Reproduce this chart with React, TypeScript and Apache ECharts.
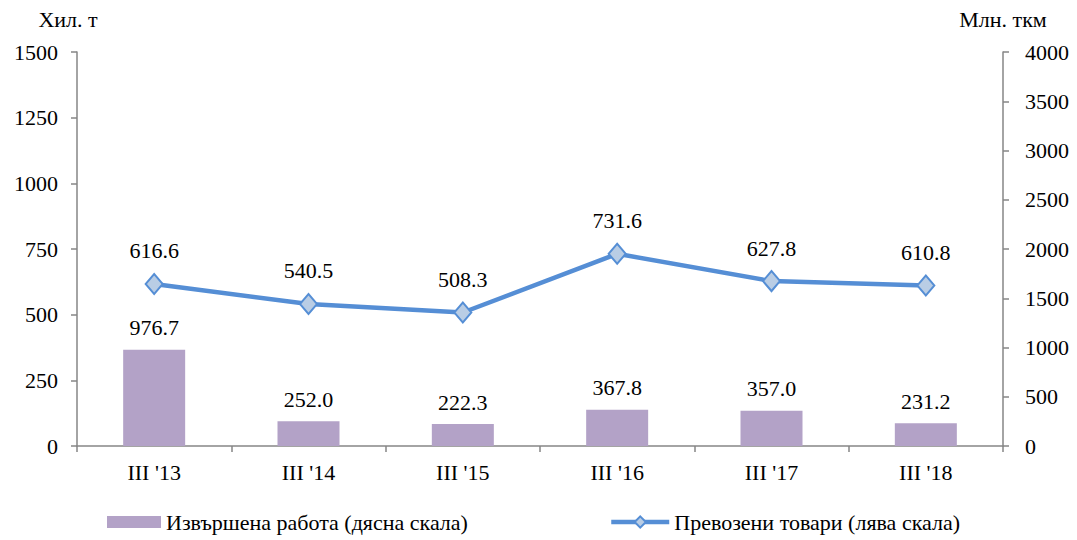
import React, { useEffect, useRef } from "react";
import * as echarts from "echarts";

const categories = ["III '13", "III '14", "III '15", "III '16", "III '17", "III '18"];
const workDone = [976.7, 252.0, 222.3, 367.8, 357.0, 231.2];
const goodsCarried = [616.6, 540.5, 508.3, 731.6, 627.8, 610.8];
const barName = "Извършена работа (дясна скала)";
const lineName = "Превозени товари (лява скала)";

const FONT = "'Liberation Serif', 'Times New Roman', serif";
const FS = 22;

export default function App() {
  const ref = useRef<HTMLDivElement>(null);
  useEffect(() => {
    const chart = echarts.init(ref.current!, null, { renderer: "svg" });
    const axisCommon = {
      axisLine: { show: true, lineStyle: { color: "#868686", width: 1.5 } },
      axisTick: { show: true, inside: false, length: 6, lineStyle: { color: "#868686", width: 1.5 } },
      splitLine: { show: false },
      axisLabel: { color: "#000", fontFamily: FONT, fontSize: FS, margin: 19, formatter: (v: any) => String(v) },
    };
    const legendText = { fontFamily: FONT, fontSize: FS, color: "#000" };
    chart.setOption({
      animation: false,
      textStyle: { fontFamily: FONT },
      grid: { left: 77, right: 74, top: 52, bottom: 94, containLabel: false },
      legend: [
        {
          bottom: 2,
          left: 102,
          itemWidth: 54,
          itemHeight: 12,
          itemGap: 8,
          textStyle: legendText,
          data: [{ name: barName, icon: "rect" }],
        },
        {
          bottom: 2,
          left: 604,
          itemWidth: 58,
          itemHeight: 14,
          itemGap: 6,
          textStyle: legendText,
          lineStyle: { width: 4.5 },
          data: [{ name: lineName }],
        },
      ],
      xAxis: {
        type: "category",
        data: categories,
        ...axisCommon,
        axisLabel: { ...axisCommon.axisLabel, margin: 15, formatter: undefined },
      },
      yAxis: [
        {
          type: "value",
          min: 0,
          max: 1500,
          interval: 250,
          position: "left",
          name: "Хил. т",
          nameLocation: "end",
          nameGap: 22,
          nameTextStyle: { color: "#000", fontFamily: FONT, fontSize: FS, align: "center", padding: [0, 18, 0, 0] },
          ...axisCommon,
        },
        {
          type: "value",
          min: 0,
          max: 4000,
          interval: 500,
          position: "right",
          name: "Млн. ткм",
          nameLocation: "end",
          nameGap: 22,
          nameTextStyle: { color: "#000", fontFamily: FONT, fontSize: FS, align: "center" },
          ...axisCommon,
          axisLabel: { ...axisCommon.axisLabel, margin: 22 },
        },
      ],
      series: [
        {
          name: barName,
          type: "bar",
          yAxisIndex: 1,
          data: workDone,
          barWidth: 62,
          itemStyle: { color: "#B3A2C7" },
          label: {
            show: true,
            position: "top",
            distance: 11,
            color: "#000",
            fontFamily: FONT,
            fontSize: FS,
            formatter: (p: any) => Number(p.value).toFixed(1),
          },
        },
        {
          name: lineName,
          type: "line",
          yAxisIndex: 0,
          data: goodsCarried,
          symbol: "diamond",
          symbolSize: [17, 20],
          lineStyle: { color: "#558ED5", width: 4.5 },
          itemStyle: { color: "#B9CDE5", borderColor: "#558ED5", borderWidth: 2 },
          label: {
            show: true,
            position: "top",
            distance: 11,
            color: "#000",
            fontFamily: FONT,
            fontSize: FS,
            formatter: (p: any) => Number(p.value).toFixed(1),
          },
        },
      ],
    });
    return () => chart.dispose();
  }, []);
  return <div ref={ref} style={{ width: 1077, height: 540, position: "absolute", left: 0, top: 0 }} />;
}
